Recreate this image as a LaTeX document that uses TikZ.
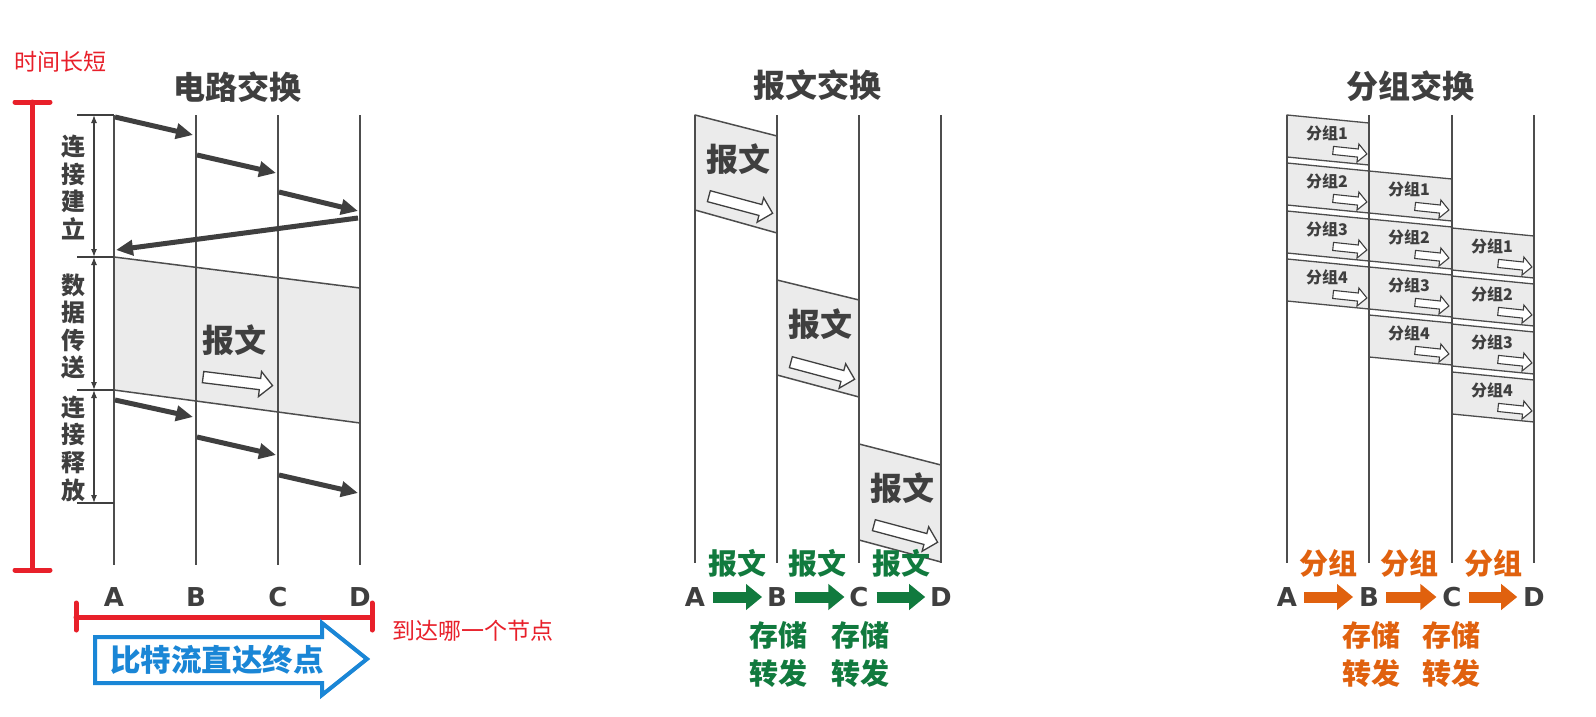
\documentclass[tikz,border=0pt]{standalone}
\usepackage{fontspec}
\newfontfamily\cjk{Noto Sans CJK SC}
\newfontfamily\latb{DejaVu Sans}
\usetikzlibrary{arrows.meta,shapes.arrows}
\definecolor{ink}{HTML}{3F3F3F}
\definecolor{lin}{HTML}{4D4D4D}
\definecolor{boxfill}{HTML}{EBEBEB}
\definecolor{redm}{HTML}{E8202A}
\definecolor{bluem}{HTML}{1A86D6}
\definecolor{greenm}{HTML}{117A3E}
\definecolor{orangem}{HTML}{E0610E}
\begin{document}
\begin{tikzpicture}[x=1pt,y=-1pt,
  every node/.style={inner sep=0pt,outer sep=0pt},
  title/.style={font=\cjk\bfseries\fontsize{32}{32}\selectfont,text=ink},
  letter/.style={font=\latb\bfseries\fontsize{26}{26}\selectfont,text=ink},
  vlab/.style={font=\cjk\bfseries\fontsize{24}{27.6}\selectfont,text=ink,align=center},
  bigmsg/.style={font=\cjk\bfseries\fontsize{32}{32}\selectfont,text=ink},
  pkt/.style={font=\cjk\bfseries\fontsize{16}{16}\selectfont,text=ink},
  redtxt/.style={font=\cjk\fontsize{23}{23}\selectfont,text=redm},
  gtxt/.style={font=\cjk\bfseries\fontsize{29}{29}\selectfont,text=greenm},
  otxt/.style={font=\cjk\bfseries\fontsize{29}{29}\selectfont,text=orangem},
  vline/.style={draw=lin,line width=1.5pt},
  edge/.style={draw=lin,line width=1.5pt},
  boxstyle/.style={fill=boxfill,draw=lin,line width=1.5pt,line join=round},
  sig/.style={draw=ink,line width=5pt,-{Triangle[length=17pt,width=15pt]}},
  dim/.style={draw=ink,line width=1.2pt,{Latex[length=8pt,width=6pt]}-{Latex[length=8pt,width=6pt]}},
  tick/.style={draw=ink,line width=1.5pt},
  redline/.style={draw=redm,line width=5pt,line cap=round},
  hol/.style={single arrow,draw=ink,fill=white,line width=1.3pt,inner xsep=0pt,single arrow head extend=7pt,inner ysep=5pt,minimum height=66pt},
  holsmall/.style={single arrow,draw=ink,fill=white,line width=1.1pt,inner xsep=0pt,single arrow head extend=5pt,inner ysep=3.5pt,minimum height=34pt},
  garrow/.style={draw=greenm,line width=11pt,-{Triangle[length=16pt,width=25pt]},shorten <=8pt,shorten >=5pt},
  oarrow/.style={draw=orangem,line width=11pt,-{Triangle[length=16pt,width=25pt]},shorten <=7pt,shorten >=6pt}
]
\useasboundingbox[fill=white] (0,0) rectangle (1596,717);

% ---------------- red annotations ----------------
\node[redtxt] (tlen) at (60,62) {时间长短};
\coordinate (rt) at (32,102); \coordinate (rb) at (32,570);
\coordinate (rtl) at (15,102); \coordinate (rtr) at (50,102);
\coordinate (rbl) at (15,570); \coordinate (rbr) at (50,570);
\draw[redline] (rt) -- (rb);
\draw[redline] (rtl) -- (rtr);
\draw[redline] (rbl) -- (rbr);
\coordinate (hl) at (76,617); \coordinate (hr) at (372,617);
\coordinate (hlt) at (76,603); \coordinate (hlb) at (76,630);
\coordinate (hrt) at (372,603); \coordinate (hrb) at (372,630);
\draw[redline] (hl) -- (hr);
\draw[redline] (hlt) -- (hlb);
\draw[redline] (hrt) -- (hrb);
\node[redtxt,anchor=west] (node) at (392,631) {到达哪一个节点};

% ---------------- circuit switching ----------------
\node[title] (t1) at (237,87) {电路交换};
\fill[boxfill] (114,257) -- (360,288) -- (360,423) -- (114,390) -- cycle;
\coordinate (g1) at (114,257); \coordinate (g2) at (360,288);
\coordinate (g3) at (114,390); \coordinate (g4) at (360,423);
\draw[edge] (g1) -- (g2);
\draw[edge] (g3) -- (g4);
\foreach \n/\x in {A/114,B/196,C/278,D/360}{
  \coordinate (c\n t) at (\x,115);
  \coordinate (c\n b) at (\x,565);
  \draw[vline] (c\n t) -- (c\n b);
  \node[letter] (c\n) at (\x,597) {\n};
}
% ticks and dimension arrows
\foreach \i/\y in {1/115,2/257,3/390,4/503}{
  \coordinate (tk\i l) at (77,\y);
  \coordinate (tk\i r) at (114,\y);
  \coordinate (dm\i) at (94,\y);
  \draw[tick] (tk\i l) -- (tk\i r);
}
\draw[dim] (dm1) -- (dm2);
\draw[dim] (dm2) -- (dm3);
\draw[dim] (dm3) -- (dm4);
\node[vlab] (v1) at (73,187.5) {连\\接\\建\\立};
\node[vlab] (v2) at (73,326.5) {数\\据\\传\\送};
\node[vlab] (v3) at (73,448.5) {连\\接\\释\\放};
% signalling arrows
\coordinate (s1a) at (115,117); \coordinate (s1b) at (193,135);
\coordinate (s2a) at (197,155); \coordinate (s2b) at (276,173);
\coordinate (s3a) at (279,192); \coordinate (s3b) at (358,211);
\coordinate (s4a) at (358,218); \coordinate (s4b) at (116,250);
\draw[sig] (s1a) -- (s1b);
\draw[sig] (s2a) -- (s2b);
\draw[sig] (s3a) -- (s3b);
\draw[sig] (s4a) -- (s4b);
\coordinate (r1a) at (115,400); \coordinate (r1b) at (193,417);
\coordinate (r2a) at (197,437); \coordinate (r2b) at (276,455);
\coordinate (r3a) at (279,475); \coordinate (r3b) at (358,493);
\draw[sig] (r1a) -- (r1b);
\draw[sig] (r2a) -- (r2b);
\draw[sig] (r3a) -- (r3b);
\node[bigmsg] (cmsg) at (234,340) {报文};
\node[hol,minimum height=70pt,rotate=-7] (carr) at (235,381) {};
% blue arrow
\draw[draw=bluem,fill=white,line width=4pt,line join=miter]
  (95,637) -- (322,637) -- (322,623) -- (367,659) -- (322,695) -- (322,683) -- (95,683) -- cycle;
\node[font=\cjk\bfseries\fontsize{30.5}{30.5}\selectfont,text=bluem] (bits) at (217,660) {比特流直达终点};

% ---------------- message switching ----------------
\node[title] (t2) at (817,85) {报文交换};
\filldraw[boxstyle] (695,115) -- (777,136) -- (777,233) -- (695,210) -- cycle;
\filldraw[boxstyle] (777,280) -- (859,300) -- (859,397) -- (777,375) -- cycle;
\filldraw[boxstyle] (859,444) -- (941,465) -- (941,562) -- (859,540) -- cycle;
\foreach \n/\x in {A/695,B/777,C/859,D/941}{
  \coordinate (m\n t) at (\x,115);
  \coordinate (m\n b) at (\x,563);
  \draw[vline] (m\n t) -- (m\n b);
  \node[letter] (m\n) at (\x,597) {\n};
}
\node[bigmsg] (mm1) at (738,159) {报文};
\node[bigmsg] (mm2) at (820,324) {报文};
\node[bigmsg] (mm3) at (902,488) {报文};
\node[hol,rotate=-15] (ma1) at (738,204) {};
\node[hol,rotate=-15] (ma2) at (820,370) {};
\node[hol,rotate=-15] (ma3) at (903,533) {};
\node[gtxt] (gl1) at (737,563) {报文};
\node[gtxt] (gl2) at (817,563) {报文};
\node[gtxt] (gl3) at (901,563) {报文};
\draw[garrow] (mA) -- (mB);
\draw[garrow] (mB) -- (mC);
\draw[garrow] (mC) -- (mD);
\node[gtxt] (gs1) at (778,635) {存储};
\node[gtxt] (gs2) at (860,635) {存储};
\node[gtxt] (gf1) at (778,673) {转发};
\node[gtxt] (gf2) at (860,673) {转发};

% ---------------- packet switching ----------------
\node[title] (t3) at (1410,86) {分组交换};
\foreach \col/\L/\R/\s in {1/1287/1369/115,2/1369/1452/171,3/1452/1534/228}{
  \foreach \n in {1,...,4}{
    \pgfmathsetmacro\ytop{\s+48*(\n-1)}
    \filldraw[boxstyle,line width=1.3pt] (\L,\ytop) -- (\R,\ytop+8) -- (\R,\ytop+50) -- (\L,\ytop+42) -- cycle;
    \node[pkt] (pl\col\n) at (\L+40,\ytop+18) {分组\n};
    \node[holsmall,rotate=-6] (pa\col\n) at (\L+61,\ytop+37) {};
  }
}
\foreach \n/\x in {A/1287,B/1369,C/1452,D/1534}{
  \coordinate (p\n t) at (\x,115);
  \coordinate (p\n b) at (\x,563);
  \draw[vline] (p\n t) -- (p\n b);
  \node[letter] (p\n) at (\x,597) {\n};
}
\node[otxt] (ol1) at (1328,563) {分组};
\node[otxt] (ol2) at (1409,563) {分组};
\node[otxt] (ol3) at (1493,563) {分组};
\draw[oarrow] (pA) -- (pB);
\draw[oarrow] (pB) -- (pC);
\draw[oarrow] (pC) -- (pD);
\node[otxt] (os1) at (1371,635) {存储};
\node[otxt] (os2) at (1451,635) {存储};
\node[otxt] (of1) at (1371,673) {转发};
\node[otxt] (of2) at (1451,673) {转发};
\end{tikzpicture}
\end{document}
